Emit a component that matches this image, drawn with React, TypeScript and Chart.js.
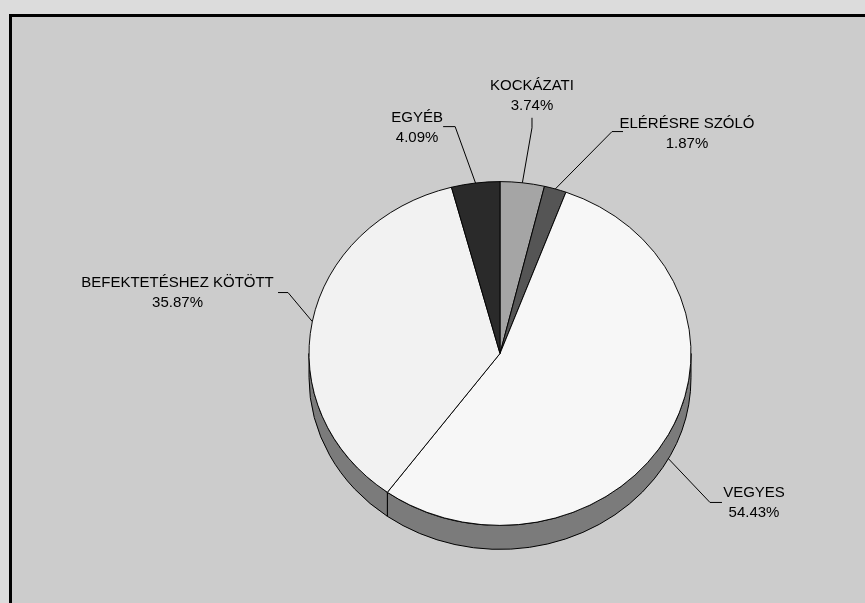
import { useEffect, useRef } from "react";
import { Chart, registerables } from "chart.js";

Chart.register(...registerables);

// ---- data ----
const categories = ["KOCKÁZATI", "ELÉRÉSRE SZÓLÓ", "VEGYES", "BEFEKTETÉSHEZ KÖTÖTT", "EGYÉB"];
const shares = [3.74, 1.87, 54.43, 35.87, 4.09];

// ---- styles ----
const topColors = ["#a5a5a5", "#555555", "#f7f7f7", "#f2f2f2", "#2a2a2a"];
const sideColors = ["#6e6e6e", "#3a3a3a", "#7b7b7b", "#7b7b7b", "#1e1e1e"];
const TILT = 0.9; // vertical squash of the pie face
const DEPTH = 24; // thickness of the 3D rim
const FONT = '15px "Liberation Sans", Arial, sans-serif';

// label layout: offsets relative to the slice's anchor point on the pie edge
const labelLayout = [
  { onBase: false, text: [9.6, -97], elbow: [9.6, -55], end: [9.6, -65] },
  { onBase: false, text: [131.7, -65.4], elbow: [56.7, -57.4], end: [67.7, -57.4] },
  { onBase: true, text: [85.6, 33.8], elbow: [41.6, 43.8], end: [53.6, 43.8] },
  { onBase: false, text: [-134.8, -39], elbow: [-24.3, -29], end: [-34.3, -29] },
  { onBase: false, text: [-58.4, -65.4], elbow: [-20.4, -56.4], end: [-32.4, -56.4] },
];

const framePlugin = {
  id: "frame",
  beforeDraw(chart: any) {
    const { ctx, width, height } = chart;
    ctx.save();
    ctx.fillStyle = "#dcdcdc";
    ctx.fillRect(0, 0, width, height);
    ctx.fillStyle = "#cccccc";
    ctx.fillRect(9, 14, width, height);
    ctx.strokeStyle = "#000";
    ctx.lineWidth = 3;
    ctx.strokeRect(10.5, 15.5, width + 20, height + 20);
    ctx.restore();
  },
};

const pie3dPlugin = {
  id: "pie3d",
  beforeDatasetsDraw(chart: any) {
    const { ctx } = chart;
    const arcs = chart.getDatasetMeta(0).data;
    if (!arcs.length) return;
    const cx = arcs[0].x;
    const cy = arcs[0].y;
    const rx = arcs[0].outerRadius;
    const ry = rx * TILT;
    ctx.save();
    ctx.lineWidth = 1;
    ctx.strokeStyle = "#000";
    arcs.forEach((arc: any, i: number) => {
      const a = Math.max(arc.startAngle, 0);
      const b = Math.min(arc.endAngle, Math.PI);
      if (b <= a) return;
      ctx.beginPath();
      ctx.ellipse(cx, cy, rx, ry, 0, a, b);
      ctx.lineTo(cx + rx * Math.cos(b), cy + DEPTH + ry * Math.sin(b));
      ctx.ellipse(cx, cy + DEPTH, rx, ry, 0, b, a, true);
      ctx.closePath();
      ctx.fillStyle = sideColors[i];
      ctx.fill();
      ctx.stroke();
    });
    ctx.restore();
    ctx.save();
    ctx.translate(cx, cy);
    ctx.scale(1, TILT);
    ctx.translate(-cx, -cy);
  },
  afterDatasetsDraw(chart: any) {
    chart.ctx.restore();
  },
  afterDraw(chart: any) {
    const { ctx } = chart;
    const arcs = chart.getDatasetMeta(0).data;
    if (!arcs.length) return;
    const cx = arcs[0].x;
    const cy = arcs[0].y;
    const rx = arcs[0].outerRadius;
    const ry = rx * TILT;
    const total = shares.reduce((s, v) => s + v, 0);
    ctx.save();
    ctx.font = FONT;
    ctx.fillStyle = "#000";
    ctx.strokeStyle = "#000";
    ctx.lineWidth = 1;
    ctx.textAlign = "center";
    ctx.textBaseline = "middle";
    arcs.forEach((arc: any, i: number) => {
      const lay = labelLayout[i];
      const m = (arc.startAngle + arc.endAngle) / 2;
      const ax = cx + rx * Math.cos(m);
      const ay = cy + (lay.onBase ? DEPTH : 0) + ry * Math.sin(m);
      ctx.beginPath();
      ctx.moveTo(ax, ay);
      ctx.lineTo(ax + lay.elbow[0], ay + lay.elbow[1]);
      ctx.lineTo(ax + lay.end[0], ay + lay.end[1]);
      ctx.stroke();
      const tx = ax + lay.text[0];
      const ty = ay + lay.text[1];
      ctx.fillText(categories[i], tx, ty);
      ctx.fillText(((shares[i] / total) * 100).toFixed(2) + "%", tx, ty + 20);
    });
    ctx.restore();
  },
};

export default function App() {
  const ref = useRef<HTMLCanvasElement>(null);
  useEffect(() => {
    if (!ref.current) return;
    const chart = new Chart(ref.current, {
      type: "pie",
      data: {
        labels: categories,
        datasets: [
          {
            data: shares,
            backgroundColor: topColors,
            borderColor: "#000",
            borderWidth: 1,
            radius: 191,
            clip: false as any,
          } as any,
        ],
      },
      options: {
        responsive: false,
        animation: false,
        events: [],
        layout: { padding: { left: 309, right: 174, top: 162.5, bottom: 58.5 } },
        plugins: {
          legend: { display: false },
          tooltip: { enabled: false },
          title: { display: false },
        },
      },
      plugins: [framePlugin, pie3dPlugin],
    });
    return () => chart.destroy();
  }, []);
  return (
    <div style={{ position: "absolute", left: 0, top: 0, width: 865, height: 603 }}>
      <canvas ref={ref} width={865} height={603} style={{ display: "block" }} />
    </div>
  );
}
